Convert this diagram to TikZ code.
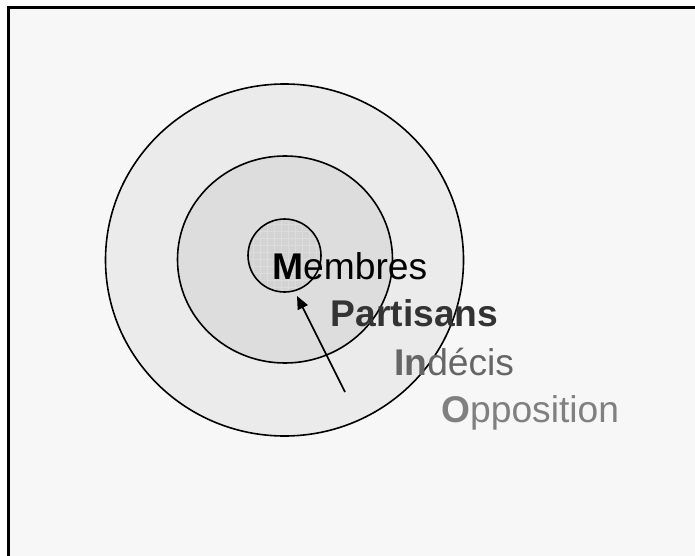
\documentclass[tikz,border=0pt]{standalone}
\usepackage{fontspec}
\setmainfont{Liberation Sans}
\usetikzlibrary{arrows.meta}
\definecolor{bgc}{HTML}{F7F7F7}
\definecolor{ringo}{HTML}{EBEBEB}
\definecolor{ringm}{HTML}{DDDDDD}
\definecolor{ringi}{HTML}{D3D3D3}
\definecolor{gridc}{HTML}{DCDCDC}
\definecolor{tpart}{HTML}{333333}
\definecolor{tinde}{HTML}{666666}
\definecolor{toppo}{HTML}{808080}
\tikzset{
  ring/.style={draw=black, line width=1.6pt},
  lbl/.style={anchor=base west, inner sep=0pt, font=\fontsize{37.2}{40}\selectfont},
  arr/.style={line width=1.6pt, -{Triangle[length=13pt,width=11pt]}}
}
\begin{document}
\begin{tikzpicture}[x=1pt,y=-1pt]
\useasboundingbox (0,0) rectangle (695,556);
\fill[white] (0,0) rectangle (695,556);
\fill[bgc] (8.8,7.5) rectangle (695,556);
\draw[line width=3pt] (8.8,556) -- (8.8,7.5) -- (695,7.5);
% rings
\filldraw[ring, fill=ringo] (284.5,260) ellipse [x radius=179, y radius=176];
\filldraw[ring, fill=ringm] (285,259.5) ellipse [x radius=107.5, y radius=103.5];
\fill[ringi] (284.5,255.5) circle (36.5);
\begin{scope}
  \clip (284.5,255.5) circle (36.5);
  \foreach \i in {0,...,11} {
    \draw[gridc, line width=0.8pt] (246+7*\i,215) -- (246+7*\i,296);
    \draw[gridc, line width=0.8pt] (244,217+7*\i) -- (325,217+7*\i);
  }
\end{scope}
\draw[ring] (284.5,255.5) circle (36.5);
% arrow
\coordinate (atail) at (345,392);
\coordinate (ahead) at (297,296);
\draw[arr] (atail) -- (ahead);
% labels
\node[lbl, text=black] (mem) at (272,279) {\textbf{M}embres};
\node[lbl, text=tpart] (par) at (330.5,326.7) {\textbf{Partisans}};
\node[lbl, text=tinde] (ind) at (394,375) {\textbf{In}décis};
\node[lbl, text=toppo] (opp) at (441,422.7) {\textbf{O}pposition};
\end{tikzpicture}
\end{document}
